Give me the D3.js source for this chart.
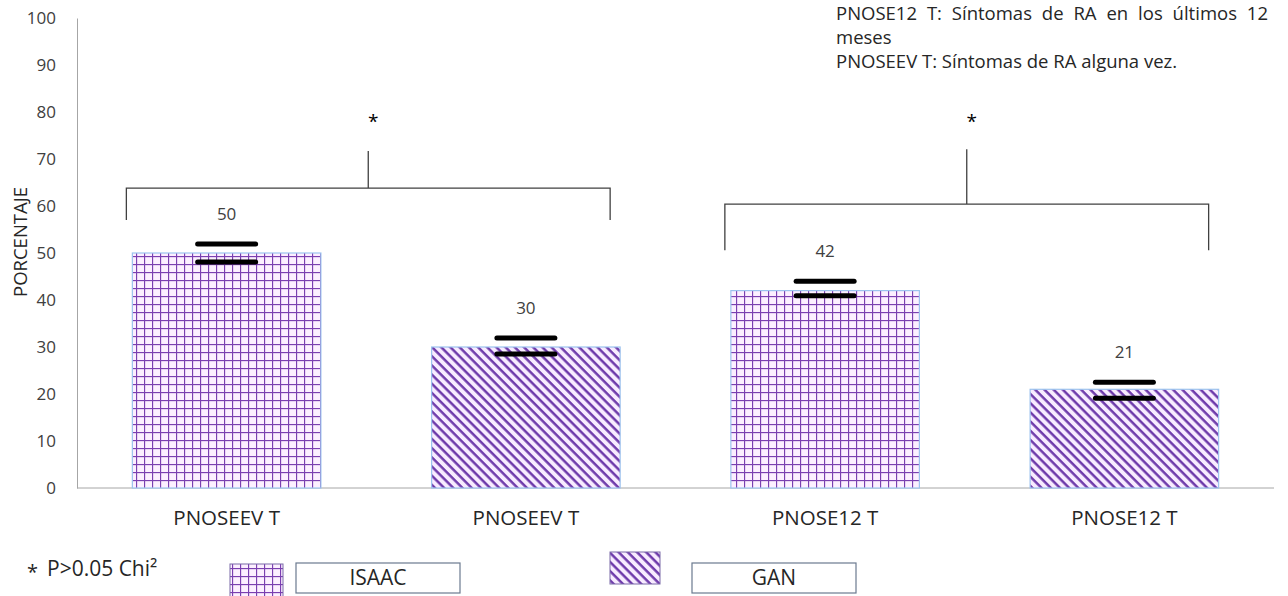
<!DOCTYPE html>
<html>
<head>
<meta charset="utf-8">
<script src="https://cdn.jsdelivr.net/npm/d3@7"></script>
<style>
  body { margin: 0; background: #fff; }
  svg { display: block; font-family: "Open Sans", sans-serif; }
</style>
</head>
<body>
<svg id="chart" width="1288" height="596"></svg>
<script>
// ---- data ----
const categories = ["PNOSEEV T", "PNOSEEV T", "PNOSE12 T", "PNOSE12 T"];
const series = ["ISAAC", "GAN", "ISAAC", "GAN"];
const values = [50, 30, 42, 21];
const errHigh = [51.9, 31.9, 44.0, 22.5];
const errLow = [48.1, 28.5, 40.9, 19.1];
const yTicks = [0, 10, 20, 30, 40, 50, 60, 70, 80, 90, 100];
const legendItems = ["ISAAC", "GAN"];
const notes = ["PNOSE12 T: Síntomas de RA en los últimos 12", "meses", "PNOSEEV T: Síntomas de RA alguna vez."];
// significance brackets: [first bar, second bar, bar level, leg bottom, stem top]
const brackets = [
  { from: 0, to: 1, level: 63.8, leg: 57.0, stem: 71.7 },
  { from: 2, to: 3, level: 60.4, leg: 50.6, stem: 72.1 }
];
const starLevel = 78.7;

// ---- layout ----
const FONT = "'Open Sans', sans-serif";
const svg = d3.select("#chart");
const x = d3.scaleBand().domain(d3.range(values.length)).range([77, 1274])
  .paddingInner(0.37).paddingOuter(0.185);
const y = d3.scaleLinear().domain([0, 100]).range([488, 18]);

// patterns
const defs = svg.append("defs");
const grid = defs.append("pattern").attr("id", "pat-ISAAC")
  .attr("patternUnits", "userSpaceOnUse").attr("width", 8).attr("height", 8);
grid.append("rect").attr("width", 8).attr("height", 8).attr("fill", "#fcefff");
grid.append("line").attr("x1", 0.5).attr("x2", 0.5).attr("y1", 0).attr("y2", 8)
  .attr("stroke", "#7a3fb0").attr("stroke-width", 1.3);
grid.append("line").attr("y1", 0.5).attr("y2", 0.5).attr("x1", 0).attr("x2", 8)
  .attr("stroke", "#7a3fb0").attr("stroke-width", 1.3);

const diag = defs.append("pattern").attr("id", "pat-GAN")
  .attr("patternUnits", "userSpaceOnUse").attr("width", 6.5).attr("height", 6.5)
  .attr("patternTransform", "rotate(-45)");
diag.append("rect").attr("width", 6.5).attr("height", 6.5).attr("fill", "#f8ecff");
diag.append("line").attr("x1", 1.5).attr("x2", 1.5).attr("y1", 0).attr("y2", 6.5)
  .attr("stroke", "#6a35a8").attr("stroke-width", 2.4);

// axes
const yAxis = svg.append("g").attr("transform", "translate(77,0)")
  .call(d3.axisLeft(y).tickValues(yTicks).tickSize(0).tickPadding(21));
yAxis.select(".domain").attr("stroke", "#a6a6a6");
yAxis.selectAll("text").attr("font-size", 17).attr("fill", "#404040")
  .attr("font-family", FONT);

const xAxis = svg.append("g").attr("transform", "translate(0,488)")
  .call(d3.axisBottom(x).tickSize(0).tickPadding(22).tickFormat(i => categories[i]));
xAxis.select(".domain").attr("stroke", "#a6a6a6").attr("d", "M77,0H1274");
xAxis.selectAll("text").attr("font-size", 20.5).attr("fill", "#262626")
  .attr("font-family", FONT);

// y title
svg.append("text").attr("transform", `translate(27,${242}) rotate(-90)`)
  .attr("text-anchor", "middle").attr("font-size", 18.5).attr("fill", "#262626")
  .text("PORCENTAJE");

// bars
svg.append("g").selectAll("rect").data(values).join("rect")
  .attr("x", (d, i) => x(i)).attr("width", x.bandwidth())
  .attr("y", d => y(d)).attr("height", d => y(0) - y(d))
  .attr("fill", (d, i) => `url(#pat-${series[i]})`)
  .attr("stroke", "#9cc3ee").attr("stroke-width", 1.2);

// error marks
const eg = svg.append("g");
values.forEach((d, i) => {
  const cx = x(i) + x.bandwidth() / 2;
  [errHigh[i], errLow[i]].forEach(v => {
    eg.append("line").attr("x1", cx - 29).attr("x2", cx + 29)
      .attr("y1", y(v)).attr("y2", y(v))
      .attr("stroke", "#000").attr("stroke-width", 5).attr("stroke-linecap", "round");
  });
});

// value labels
svg.append("g").selectAll("text").data(values).join("text")
  .attr("x", (d, i) => x(i) + x.bandwidth() / 2)
  .attr("y", (d, i) => y(errHigh[i]) - 24)
  .attr("text-anchor", "middle").attr("font-size", 17).attr("fill", "#404040")
  .text(d => d);

// brackets
const bg = svg.append("g").attr("stroke", "#404040").attr("fill", "none").attr("stroke-width", 1.3);
brackets.forEach(b => {
  const x1 = x(b.from) - 6;
  const x2 = x(b.to) + x.bandwidth() - 10;
  const cx = (x1 + x2) / 2;
  bg.append("path").attr("d",
    `M${x1},${y(b.leg)}V${y(b.level)}H${x2}V${y(b.leg)}M${cx},${y(b.level)}V${y(b.stem)}`);
  svg.append("text").attr("x", cx + 5).attr("y", y(starLevel) + 10)
    .attr("text-anchor", "middle").attr("font-size", 19).attr("fill", "#000").text("*");
});

// notes top-right
notes.forEach((t, i) => {
  const tx = svg.append("text").attr("x", 836).attr("y", 20 + i * 24)
    .attr("font-size", 18.5).attr("fill", "#262626").text(t);
  if (i === 0) {
    const len = tx.node().getComputedTextLength();
    const spaces = t.split(" ").length - 1;
    tx.attr("word-spacing", (432 - len) / spaces);
  }
});

// legend
svg.append("text").attr("x", 27).attr("y", 579).attr("font-size", 20).attr("fill", "#262626").text("*");
svg.append("text").attr("x", 47).attr("y", 576).attr("font-size", 21).attr("fill", "#262626")
  .text("P>0.05 Chi²");

const swatches = [
  { x: 230, y: 564, w: 53, h: 36 },
  { x: 610, y: 552, w: 50, h: 32 }
];
const boxes = [{ x: 296 }, { x: 692 }];
legendItems.forEach((s, i) => {
  svg.append("rect").attr("x", swatches[i].x).attr("y", swatches[i].y)
    .attr("width", swatches[i].w).attr("height", swatches[i].h)
    .attr("fill", `url(#pat-${s})`).attr("stroke", "#7a6aa8").attr("stroke-width", 1);
  svg.append("rect").attr("x", boxes[i].x).attr("y", 563).attr("width", 164).attr("height", 30)
    .attr("fill", "#fff").attr("stroke", "#6b7a8f").attr("stroke-width", 1.2);
  svg.append("text").attr("x", boxes[i].x + 82).attr("y", 585).attr("text-anchor", "middle")
    .attr("font-size", 21).attr("fill", "#262626").text(s);
});
</script>
</body>
</html>
